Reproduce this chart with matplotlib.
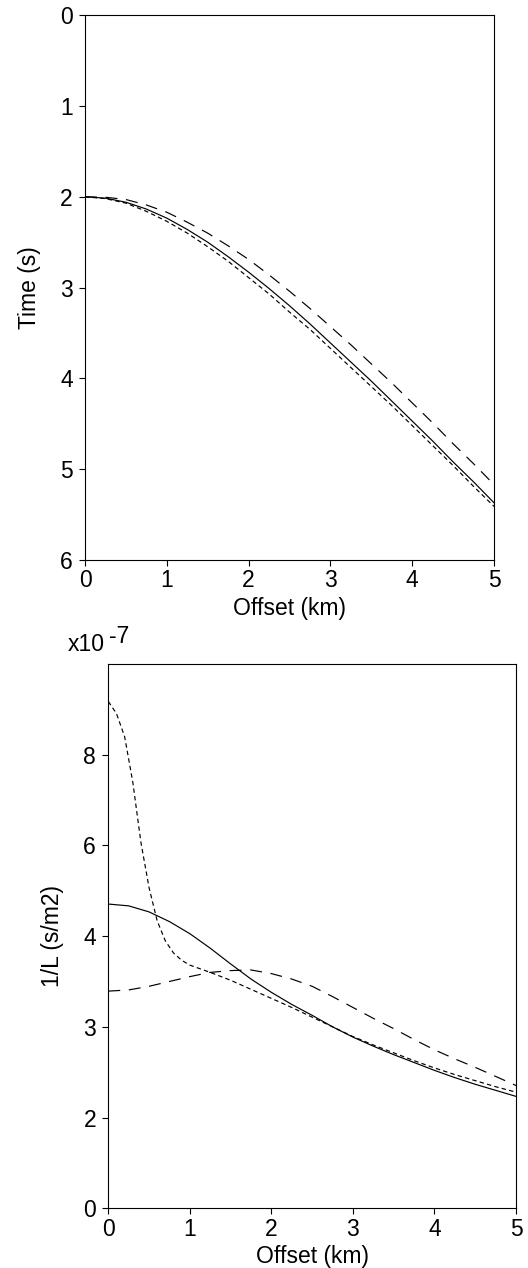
import numpy as np
import matplotlib
matplotlib.use('Agg')
import matplotlib.pyplot as plt
from matplotlib import rcParams
rcParams['font.family'] = ['Liberation Sans', 'DejaVu Sans']
rcParams['font.size'] = 16.5
rcParams['xtick.direction'] = 'out'
rcParams['ytick.direction'] = 'out'
rcParams['lines.scale_dashes'] = False

# traveltime curves (s) vs offset (km)
off_t = [0, .25, .5, .75, 1, 1.25, 1.5, 1.75, 2, 2.25, 2.5, 2.75, 3,
         3.25, 3.5, 3.75, 4, 4.25, 4.5, 4.75, 5]
t_solid = [2.00, 2.015, 2.06, 2.135, 2.235, 2.36, 2.50, 2.66, 2.83, 3.01, 3.20,
           3.40, 3.61, 3.82, 4.03, 4.25, 4.47, 4.69, 4.92, 5.14, 5.37]
t_short = [2.00, 2.02, 2.07, 2.16, 2.27, 2.40, 2.55, 2.71, 2.89, 3.07, 3.27,
           3.46, 3.67, 3.88, 4.09, 4.30, 4.52, 4.74, 4.96, 5.19, 5.41]
t_long = [2.00, 2.005, 2.03, 2.09, 2.17, 2.28, 2.40, 2.54, 2.69, 2.86, 3.04,
          3.23, 3.43, 3.63, 3.84, 4.05, 4.27, 4.49, 4.72, 4.94, 5.17]

# 1/L curves (x1e-7 s/m2) vs offset (km)
off_l = [0, .25, .5, .75, 1, 1.25, 1.5, 1.75, 2, 2.25, 2.5, 2.75, 3,
         3.25, 3.5, 3.75, 4, 4.25, 4.5, 4.75, 5]
l_solid = [5.03, 5.00, 4.90, 4.74, 4.54, 4.30, 4.04, 3.79, 3.57, 3.37, 3.19,
           3.00, 2.83, 2.68, 2.54, 2.41, 2.28, 2.16, 2.05, 1.95, 1.85]
off_s = [0, .1, .2, .3, .4, .5, .6, .7, .8, .9, 1, 1.25, 1.5, 1.75, 2, 2.25,
         2.5, 2.75, 3, 3.25, 3.5, 3.75, 4, 4.25, 4.5, 4.75, 5]
l_short = [8.38, 8.18, 7.80, 7.05, 6.05, 5.30, 4.75, 4.42, 4.22, 4.10, 4.02,
           3.90, 3.77, 3.62, 3.47, 3.32, 3.16, 3.00, 2.84, 2.70, 2.57, 2.44,
           2.32, 2.21, 2.11, 2.01, 1.92]
l_long = [3.59, 3.61, 3.67, 3.75, 3.83, 3.90, 3.93, 3.94, 3.88, 3.79, 3.67,
          3.50, 3.32, 3.14, 2.97, 2.79, 2.62, 2.47, 2.33, 2.18, 2.03]

xticks = [0, 1, 2, 3, 4, 5]
t_ticks = [0, 1, 2, 3, 4, 5, 6]
l_ticks = [0, 1.5, 3, 4.5, 6, 7.5]
l_ticklabels = ['0', '2', '3', '4', '6', '8']

SHORT = (0, (3.2, 2.3))
LONG = (0, (8.6, 6.2))
LW = 0.85


def style(ax):
    for s in ax.spines.values():
        s.set_linewidth(0.8)
    ax.tick_params(length=4.3, width=0.8)
    ax.tick_params(axis='x', pad=2.5)
    ax.tick_params(axis='y', pad=4.5)


fig = plt.figure(figsize=(5.28, 12.68), dpi=100)

ax1 = fig.add_axes([0.161, 0.5584, 0.7746, 0.4296])
ax1.plot(off_t, t_solid, 'k-', lw=LW)
ax1.plot(off_t, t_short, 'k', ls=SHORT, lw=LW)
ax1.plot(off_t, t_long, 'k', ls=LONG, lw=LW)
ax1.set_xlim(0, 5)
ax1.set_ylim(6, 0)
ax1.set_xticks(xticks)
ax1.set_yticks(t_ticks)
ax1.set_xlabel('Offset (km)', labelpad=3)
ax1.set_ylabel('Time (s)', labelpad=14)
style(ax1)

ax2 = fig.add_axes([0.2051, 0.0471, 0.7722, 0.4293])
ax2.plot(off_l, l_solid, 'k-', lw=LW)
ax2.plot(off_s, l_short, 'k', ls=SHORT, lw=LW)
ax2.plot(off_l, l_long, 'k', ls=LONG, lw=LW)
ax2.set_xlim(0, 5)
ax2.set_ylim(0, 9)
ax2.set_xticks(xticks)
ax2.set_yticks(l_ticks)
ax2.set_yticklabels(l_ticklabels)
ax2.set_xlabel('Offset (km)', labelpad=3)
ax2.set_ylabel('1/L (s/m2)', labelpad=14)
style(ax2)

# MATLAB-style exponent above the axis
fig.text(68 / 528, 1 - 650.7 / 1268, 'x10', va='baseline', ha='left')
fig.text(109 / 528, 1 - 643 / 1268, '-7', va='baseline', ha='left')

fig.savefig('out.png', dpi=100)
